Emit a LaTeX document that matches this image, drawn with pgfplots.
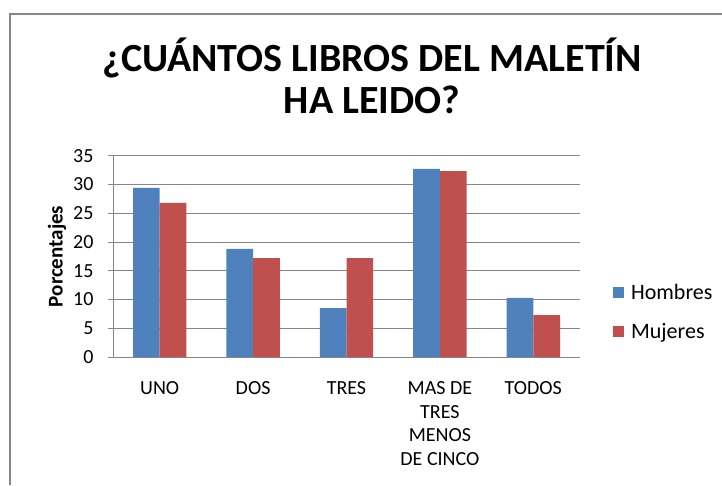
\documentclass[border=0pt]{standalone}
\usepackage{pgfplots}
\pgfplotsset{compat=1.18}
\usepackage{fontspec}
\setmainfont{Carlito}
\definecolor{hombres}{HTML}{4F81BD}
\definecolor{mujeres}{HTML}{C0504D}
\definecolor{gridgray}{HTML}{868686}

\begin{document}
\begin{tikzpicture}
\path[use as bounding box] (0,0) rectangle (722pt,485pt);
\draw[gridgray, line width=1.6pt] (10pt,0) -- (10pt,471pt) -- (722pt,471pt);
\begin{axis}[
  at={(113pt,128pt)}, anchor=south west,
  scale only axis, width=467pt, height=201.3pt,
  ybar=0pt, bar width=26.7pt,
  xmin=-0.5, xmax=4.5,
  ymin=0, ymax=35,
  xtick=data,
  xticklabels={UNO, DOS, TRES, {MAS DE\\TRES\\MENOS\\DE CINCO}, TODOS},
  ytick={0,5,...,35},
  x tick style={draw=none},
  y tick style={gridgray, line width=0.8pt},
  tick align=outside, major tick length=5pt,
  axis x line*=bottom, axis y line*=left,
  axis line style={gridgray, line width=0.8pt, -},
  ymajorgrids, grid style={gridgray, line width=0.8pt},
  /pgf/number format/assume math mode=true,
  tick label style={font=\fontsize{20}{23.5}\selectfont},
  xticklabel style={align=center, yshift=-16pt},
  yticklabel style={xshift=-11pt},
  ylabel={\bfseries Porcentajes},
  ylabel style={at={(axis description cs:-0.12,0.5)}, anchor=center, font=\fontsize{21}{24}\selectfont},
  title={¿CUÁNTOS LIBROS DEL MALETÍN\\HA LEIDO?},
  title style={at={(axis description cs:0.555,1)}, anchor=south, yshift=35.5pt, inner sep=0pt,
    align=center, font=\bfseries\fontsize{40}{42}\selectfont},
  legend style={at={(axis description cs:1.064,0.224)}, anchor=west, draw=none, fill=none,
    font=\fontsize{22}{24}\selectfont, row sep=18pt,
    /tikz/every odd column/.append style={column sep=5pt}},
  legend cell align=left,
  legend image code/.code={\fill[#1] (0pt,-5.5pt) rectangle (11pt,5.5pt);},
]
\addplot[fill=hombres, draw=none] coordinates {(0,29.4) (1,18.8) (2,8.5) (3,32.7) (4,10.3)};
\addplot[fill=mujeres, draw=none] coordinates {(0,26.8) (1,17.2) (2,17.2) (3,32.3) (4,7.3)};
\legend{Hombres, Mujeres}
\end{axis}
\end{tikzpicture}
\end{document}
